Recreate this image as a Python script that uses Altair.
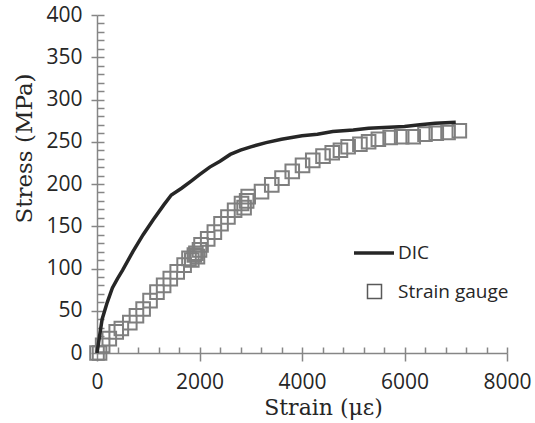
import altair as alt
import pandas as pd

# DIC curve (strain in microstrain, stress in MPa)
dic_strain = [0, 50, 100, 200, 300, 400, 500, 700, 900, 1100, 1300, 1450, 1650,
              1850, 2000, 2200, 2400, 2600, 2800, 3000, 3300, 3600, 4000, 4300,
              4600, 5000, 5300, 5600, 6000, 6300, 6600, 7000]
dic_stress = [0, 20, 40, 60, 77, 88, 98, 120, 140, 158, 175, 187, 195,
              204, 211, 220, 227, 235, 240, 244, 249, 253, 257, 259,
              262, 264, 266, 267, 268, 270, 272, 273]

# Strain gauge readings
sg_strain = [0, 50, 110, 240, 375, 475, 640, 770, 900, 1035, 1170, 1300, 1430,
             1565, 1700, 1795, 1850, 1900, 1930, 1960, 2000, 2030, 2160, 2290,
             2420, 2555, 2685, 2820, 2870, 2920, 2950, 3210, 3410, 3610, 3810,
             4010, 4210, 4410, 4590, 4750, 4900, 5130, 5300, 5490, 5720, 5945,
             6170, 6400, 6620, 6850, 7070]
sg_stress = [0, 0, 9, 17, 25, 29, 36, 44, 52, 62, 72, 80, 88,
             96, 104, 112, 110, 116, 118, 114, 122, 128, 135, 143,
             153, 161, 169, 177, 172, 180, 185, 191, 199, 207, 215,
             222, 228, 233, 237, 240, 244, 247, 250, 253, 255, 256,
             256, 259, 260, 261, 263]

x_major = [0, 2000, 4000, 6000, 8000]
x_minor = list(range(0, 8001, 400))
y_major = list(range(0, 401, 50))
y_minor = list(range(0, 401, 10))

dic = pd.DataFrame({"strain": dic_strain, "stress": dic_stress, "series": "DIC"})
sg = pd.DataFrame({"strain": sg_strain, "stress": sg_stress, "series": "Strain gauge"})

AX = "#868686"
TXT = "#262626"
LBL = "Open Sans"
TTL = "DejaVu Serif"

xs = alt.Scale(domain=[0, 8000], nice=False)
ys = alt.Scale(domain=[0, 400], nice=False)

x_axis_main = alt.Axis(values=x_major, format="d", tickSize=8, tickColor=AX, tickWidth=1.5,
                       domainColor=AX, domainWidth=1.5, grid=False, orient="bottom",
                       labelFont=LBL, labelFontSize=21, labelColor=TXT, labelPadding=10,
                       labelFlush=False,
                       title="Strain (με)", titleFont=TTL, titleFontSize=22,
                       titleFontWeight="normal", titleColor=TXT,
                       titleX=226, titleY=61, titleAlign="center",
                       titleBaseline="alphabetic")
y_axis_main = alt.Axis(values=y_major, format="d", tickSize=6, tickColor=AX, tickWidth=1.5,
                       domainColor=AX, domainWidth=1.5, grid=False, orient="left",
                       labelFont=LBL, labelFontSize=21, labelColor=TXT, labelPadding=9,
                       labelFlush=False,
                       title="Stress (MPa)", titleFont=TTL, titleFontSize=23,
                       titleFontWeight="normal", titleColor=TXT, titleAngle=270,
                       titleX=-66, titleY=133, titleAlign="center",
                       titleBaseline="alphabetic")

x_axis_minor = alt.Axis(values=x_minor, tickSize=6, offset=-6, tickColor=AX,
                        tickWidth=1.5, domain=False, labels=False, grid=False,
                        orient="bottom", title=None)
y_axis_minor = alt.Axis(values=y_minor, tickSize=7, offset=-7, tickColor=AX,
                        tickWidth=1.5, domain=False, labels=False, grid=False,
                        orient="left", title=None)

points = alt.Chart(sg).mark_point(shape="square", filled=False, size=185,
                                  strokeWidth=2, color="#7f7f7f", opacity=1).encode(
    x=alt.X("strain:Q", scale=xs, axis=x_axis_main),
    y=alt.Y("stress:Q", scale=ys, axis=y_axis_main),
    shape=alt.Shape("series:N",
                    scale=alt.Scale(domain=["Strain gauge"], range=["square"]),
                    legend=alt.Legend(orient="none", legendX=268, legendY=267,
                                      title=None, padding=0, symbolSize=196,
                                      symbolStrokeWidth=1.5,
                                      symbolStrokeColor="#595959",
                                      symbolFillColor="transparent",
                                      labelFont=LBL, labelFontSize=19,
                                      labelColor=TXT, labelOffset=14)),
)

line = alt.Chart(dic).mark_line(strokeWidth=3.5).encode(
    x=alt.X("strain:Q", scale=xs, axis=x_axis_minor),
    y=alt.Y("stress:Q", scale=ys, axis=y_axis_minor),
    color=alt.Color("series:N",
                    scale=alt.Scale(domain=["DIC"], range=[TXT]),
                    legend=alt.Legend(orient="none", legendX=255, legendY=216,
                                      title=None, padding=0, symbolType="stroke",
                                      symbolSize=1600, symbolStrokeWidth=3.5,
                                      labelFont=LBL, labelFontSize=19,
                                      labelColor=TXT, labelOffset=2)),
)

chart = alt.layer(points, line).resolve_axis(
    x="independent", y="independent"
).properties(
    width=410, height=338,
    autosize=alt.AutoSizeParams(type="none"),
    padding={"left": 97, "top": 15, "right": 28, "bottom": 70},
).configure_view(stroke=None)

chart.save("out.html", embed_options={"renderer": "svg", "actions": False})
